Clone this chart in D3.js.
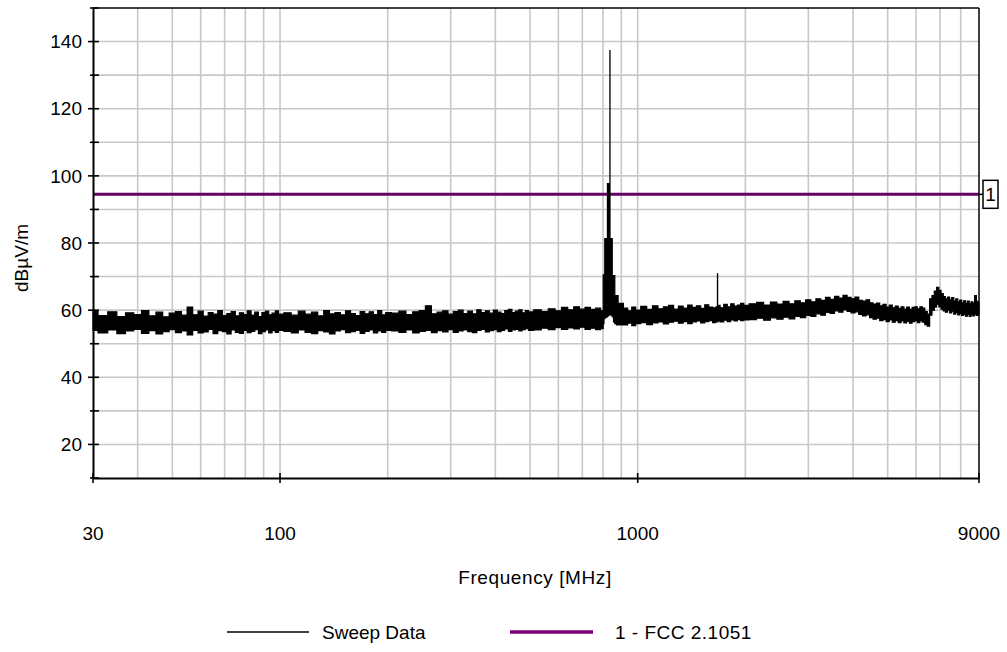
<!DOCTYPE html>
<html><head><meta charset="utf-8">
<script src="https://cdn.jsdelivr.net/npm/d3@7"></script>
<style>
body{margin:0;background:#fff}
svg{display:block}
text{font-family:"Liberation Sans",Arial,sans-serif;fill:#000}
</style>
</head><body>
<svg id="chart" width="1007" height="652"></svg>
<script>
// ---------- data ----------
const xTickLabels = [30, 100, 1000, 9000];
const yTickLabels = [20, 40, 60, 80, 100, 120, 140];
const limitLevel = 94.5;
const limitName = "1 - FCC 2.1051";
const sweepName = "Sweep Data";

// sweep trace: frequency (MHz), upper and lower envelope of the noisy trace (dBµV/m)
const sweepFreq = [
  30,32,34,36,38,40,42,44,46,48,50,52,54,56,58,60,62,64,66,68,70,72,74,76,78,80,82,84,86,88,90,92,94,96,98,100,
  105,110,115,120,125,130,135,140,145,150,155,160,165,170,175,180,185,190,195,200,
  210,220,230,240,250,260,270,280,290,300,310,320,330,340,350,360,370,380,390,400,410,420,430,440,450,460,470,480,490,500,
  525,550,575,600,625,650,675,700,725,750,775,800,
  802,808,810,822,824,836,836.5,837,848,850,862,864,880,883,900,
  925,950,975,1000,1040,1080,1120,1160,1200,1240,1280,1320,1360,1400,1440,1480,1520,1560,1600,1640,1670,1672,1674,1680,1720,1760,1800,1840,1880,1920,1960,2000,
  2100,2200,2300,2400,2500,2600,2700,2800,2900,3000,3100,3200,3300,3400,3500,3600,3700,3800,3900,4000,
  4100,4200,4300,4400,4500,4600,4700,4800,4900,5000,5100,5200,5300,5400,5500,5600,5700,5800,5900,6000,
  6100,6200,6300,6400,6500,6600,6700,6800,6900,7000,7100,7200,7300,7400,7500,7600,7700,7800,7900,8000,
  8100,8200,8300,8400,8500,8600,8700,8800,8900,9000
];
const sweepHigh = [
  59.8,58.4,59.5,58.1,59.2,58.7,59.9,58.3,59.4,58.0,59.1,59.6,58.5,60.9,58.6,59.7,58.2,59.3,58.8,59.9,58.4,59.0,59.6,58.3,59.2,58.7,59.8,58.5,59.4,58.1,59.3,59.7,58.6,59.1,59.8,58.8,
  59.2,58.5,59.7,58.8,59.4,58.3,59.9,58.9,59.3,58.6,59.8,59.0,58.4,59.6,58.9,59.5,58.7,59.9,58.6,59.3,
  59.1,59.7,58.7,59.5,59.9,61.3,58.9,59.4,59.8,58.8,59.6,60.0,59.0,59.7,58.9,60.1,59.3,59.8,59.1,60.0,59.4,59.0,59.9,60.2,59.3,59.7,60.1,59.2,59.9,59.5,
  60.1,59.6,60.4,59.8,60.8,60.1,61.0,60.3,60.8,60.2,60.6,59.9,
  70.5,70.5,81.3,81.3,97.7,97.7,137.3,81.3,81.3,70.3,70.3,64.3,64.3,62.0,62.0,
  60.6,59.8,60.9,60.0,61.1,60.2,61.3,60.4,61.0,61.4,60.3,61.2,60.6,61.5,60.8,61.3,60.5,61.6,60.9,60.7,61.0,70.8,60.8,61.4,60.7,61.7,61.0,61.9,61.2,61.5,62.0,61.4,
  61.9,62.3,61.5,62.4,61.8,62.6,61.9,62.8,62.2,63.1,62.5,63.4,62.9,63.8,63.2,64.1,63.6,64.4,63.8,63.4,
  63.9,62.9,62.7,63.1,62.2,61.8,62.1,61.3,61.7,60.9,61.5,60.7,61.2,60.5,61.0,60.3,60.9,60.2,60.8,61.0,
  60.4,61.0,60.6,59.6,58.8,63.4,64.3,65.7,66.8,65.9,64.9,64.0,63.4,63.9,63.1,63.7,62.7,63.4,62.5,63.0,
  62.2,62.8,62.0,62.7,61.9,62.5,62.1,64.3,62.6,62.2
];
const sweepLow = [
  54.0,53.2,54.1,53.0,53.8,54.3,53.1,53.9,52.9,53.6,54.2,53.3,53.8,52.6,54.0,53.2,53.5,54.3,53.0,53.9,53.6,52.9,54.1,53.4,53.1,54.0,53.3,53.7,54.2,53.0,53.6,54.1,53.2,53.9,53.4,54.0,
  53.7,53.2,54.1,53.4,53.0,53.9,53.5,52.9,53.8,54.2,53.3,53.6,54.0,53.1,53.7,54.1,53.2,53.8,53.4,54.0,
  53.8,53.4,54.1,53.2,53.7,54.0,53.3,53.9,53.5,54.2,53.4,53.8,54.1,53.6,53.3,54.0,54.3,53.5,53.9,54.2,53.6,54.0,54.4,53.7,54.1,54.3,53.8,54.2,54.5,54.0,
  54.1,54.6,54.2,54.8,54.3,54.7,54.4,54.9,54.3,54.6,54.2,54.5,
  56.0,57.5,57.8,58.0,58.3,58.6,58.8,58.8,58.5,58.0,56.5,56.0,55.6,55.7,55.6,
  55.6,56.1,55.4,56.0,56.3,55.7,56.2,56.5,55.9,56.4,56.7,56.1,56.6,56.0,56.5,56.8,56.2,56.6,56.9,56.3,56.7,56.8,56.5,56.8,56.5,57.0,56.6,57.1,56.8,57.2,56.9,57.1,
  57.2,57.6,57.0,57.7,57.3,57.9,57.4,58.1,57.8,58.4,58.1,58.9,58.5,59.3,59.0,59.8,59.4,60.1,59.6,59.2,
  59.5,58.7,58.3,58.6,57.8,57.3,57.6,56.9,57.2,56.6,57.1,56.4,56.9,56.3,56.8,56.2,56.7,56.1,56.6,56.9,
  56.3,56.8,56.4,55.7,55.2,58.5,59.9,60.9,61.7,61.0,60.3,59.8,59.4,60.0,59.2,59.7,58.8,59.3,58.6,59.0,
  58.4,58.8,58.2,58.7,58.1,58.6,58.3,58.8,58.4,58.7
];

// ---------- layout ----------
const svg = d3.select("#chart");
const plot = {left: 93, right: 979, top: 8, bottom: 478};
const FS = 19;

const x = d3.scaleLog().domain([30, 9000]).range([plot.left, plot.right]);
const y = d3.scaleLinear().domain([10, 150]).range([plot.bottom, plot.top]);

svg.append("rect").attr("width", 1007).attr("height", 652).attr("fill", "#fff");

// grid
const grid = svg.append("g").attr("stroke", "#c8c8c8").attr("stroke-width", 1.6);
x.ticks().filter(v => v > 30 && v < 9000).forEach(v => {
  grid.append("line").attr("x1", x(v)).attr("x2", x(v)).attr("y1", plot.top).attr("y2", plot.bottom);
});
y.ticks(14).filter(v => v > 10 && v < 150).forEach(v => {
  grid.append("line").attr("x1", plot.left).attr("x2", plot.right).attr("y1", y(v)).attr("y2", y(v));
});

// limit line
svg.append("line")
  .attr("x1", plot.left).attr("x2", plot.right)
  .attr("y1", y(limitLevel)).attr("y2", y(limitLevel))
  .attr("stroke", "#650065").attr("stroke-width", 3);

// sweep trace
const pts = sweepFreq.map((f, i) => ({f, hi: sweepHigh[i], lo: sweepLow[i]}));
const area = d3.area().curve(d3.curveStep).x(d => x(d.f)).y0(d => y(d.lo)).y1(d => y(d.hi));
svg.append("path").datum(pts).attr("d", area)
  .attr("fill", "#000").attr("stroke", "#000").attr("stroke-width", 1.2).attr("stroke-linejoin", "miter");

// frame
svg.append("line").attr("x1", plot.left).attr("x2", plot.right).attr("y1", plot.top).attr("y2", plot.top)
  .attr("stroke", "#000").attr("stroke-width", 1.5);
svg.append("line").attr("x1", plot.right).attr("x2", plot.right).attr("y1", plot.top).attr("y2", plot.bottom)
  .attr("stroke", "#000").attr("stroke-width", 1.5);

// y axis
const yAxis = d3.axisLeft(y).tickValues(y.ticks(14)).tickSize(0).tickFormat("");
const gy = svg.append("g").attr("transform", `translate(${plot.left},0)`).call(yAxis);
gy.select(".domain").attr("stroke", "#000").attr("stroke-width", 2);
y.ticks(14).forEach(v => {
  const major = yTickLabels.includes(v);
  svg.append("line").attr("x1", plot.left - (major ? 5 : 3)).attr("x2", plot.left + 6)
    .attr("y1", y(v)).attr("y2", y(v)).attr("stroke", "#000").attr("stroke-width", 1.6);
});
yTickLabels.forEach(v => {
  svg.append("text").attr("x", plot.left - 11).attr("y", y(v)).attr("dy", "0.35em")
    .attr("text-anchor", "end").attr("font-size", FS).text(v);
});

// x axis
const xAxis = d3.axisBottom(x).tickValues(xTickLabels).tickSize(0).tickFormat("");
const gx = svg.append("g").attr("transform", `translate(0,${plot.bottom})`).call(xAxis);
gx.select(".domain").attr("stroke", "#000").attr("stroke-width", 2);
xTickLabels.forEach(v => {
  svg.append("line").attr("x1", x(v)).attr("x2", x(v)).attr("y1", plot.bottom - 5).attr("y2", plot.bottom + 5)
    .attr("stroke", "#000").attr("stroke-width", 1.6);
  svg.append("text").attr("x", x(v)).attr("y", 540).attr("text-anchor", "middle")
    .attr("font-size", FS).text(v);
});

// axis titles
svg.append("text").attr("x", (plot.left + plot.right) / 2 - 1).attr("y", 584).attr("text-anchor", "middle")
  .attr("font-size", FS).attr("letter-spacing", 0.6).text("Frequency [MHz]");
svg.append("text").attr("transform", "translate(28,258) rotate(-90)").attr("text-anchor", "middle")
  .attr("font-size", FS).text("dBµV/m");

// limit label box
const ly = y(limitLevel);
svg.append("line").attr("x1", plot.right).attr("x2", plot.right + 4).attr("y1", ly).attr("y2", ly)
  .attr("stroke", "#000").attr("stroke-width", 1.5);
svg.append("rect").attr("x", plot.right + 4).attr("y", ly - 14).attr("width", 15).attr("height", 28)
  .attr("fill", "#fff").attr("stroke", "#000").attr("stroke-width", 1.5);
svg.append("text").attr("x", plot.right + 11.5).attr("y", ly).attr("dy", "0.36em").attr("text-anchor", "middle")
  .attr("font-size", FS).text("1");

// legend
const lg = svg.append("g");
lg.append("line").attr("x1", 227).attr("x2", 309).attr("y1", 632).attr("y2", 632)
  .attr("stroke", "#000").attr("stroke-width", 1.5);
lg.append("text").attr("x", 322).attr("y", 632).attr("dy", "0.36em").attr("font-size", FS).text(sweepName);
lg.append("line").attr("x1", 510).attr("x2", 593).attr("y1", 632).attr("y2", 632)
  .attr("stroke", "#780078").attr("stroke-width", 3.5);
lg.append("text").attr("x", 615).attr("y", 632).attr("dy", "0.36em").attr("font-size", FS).attr("letter-spacing", 0.5).text(limitName);
</script>
</body></html>
